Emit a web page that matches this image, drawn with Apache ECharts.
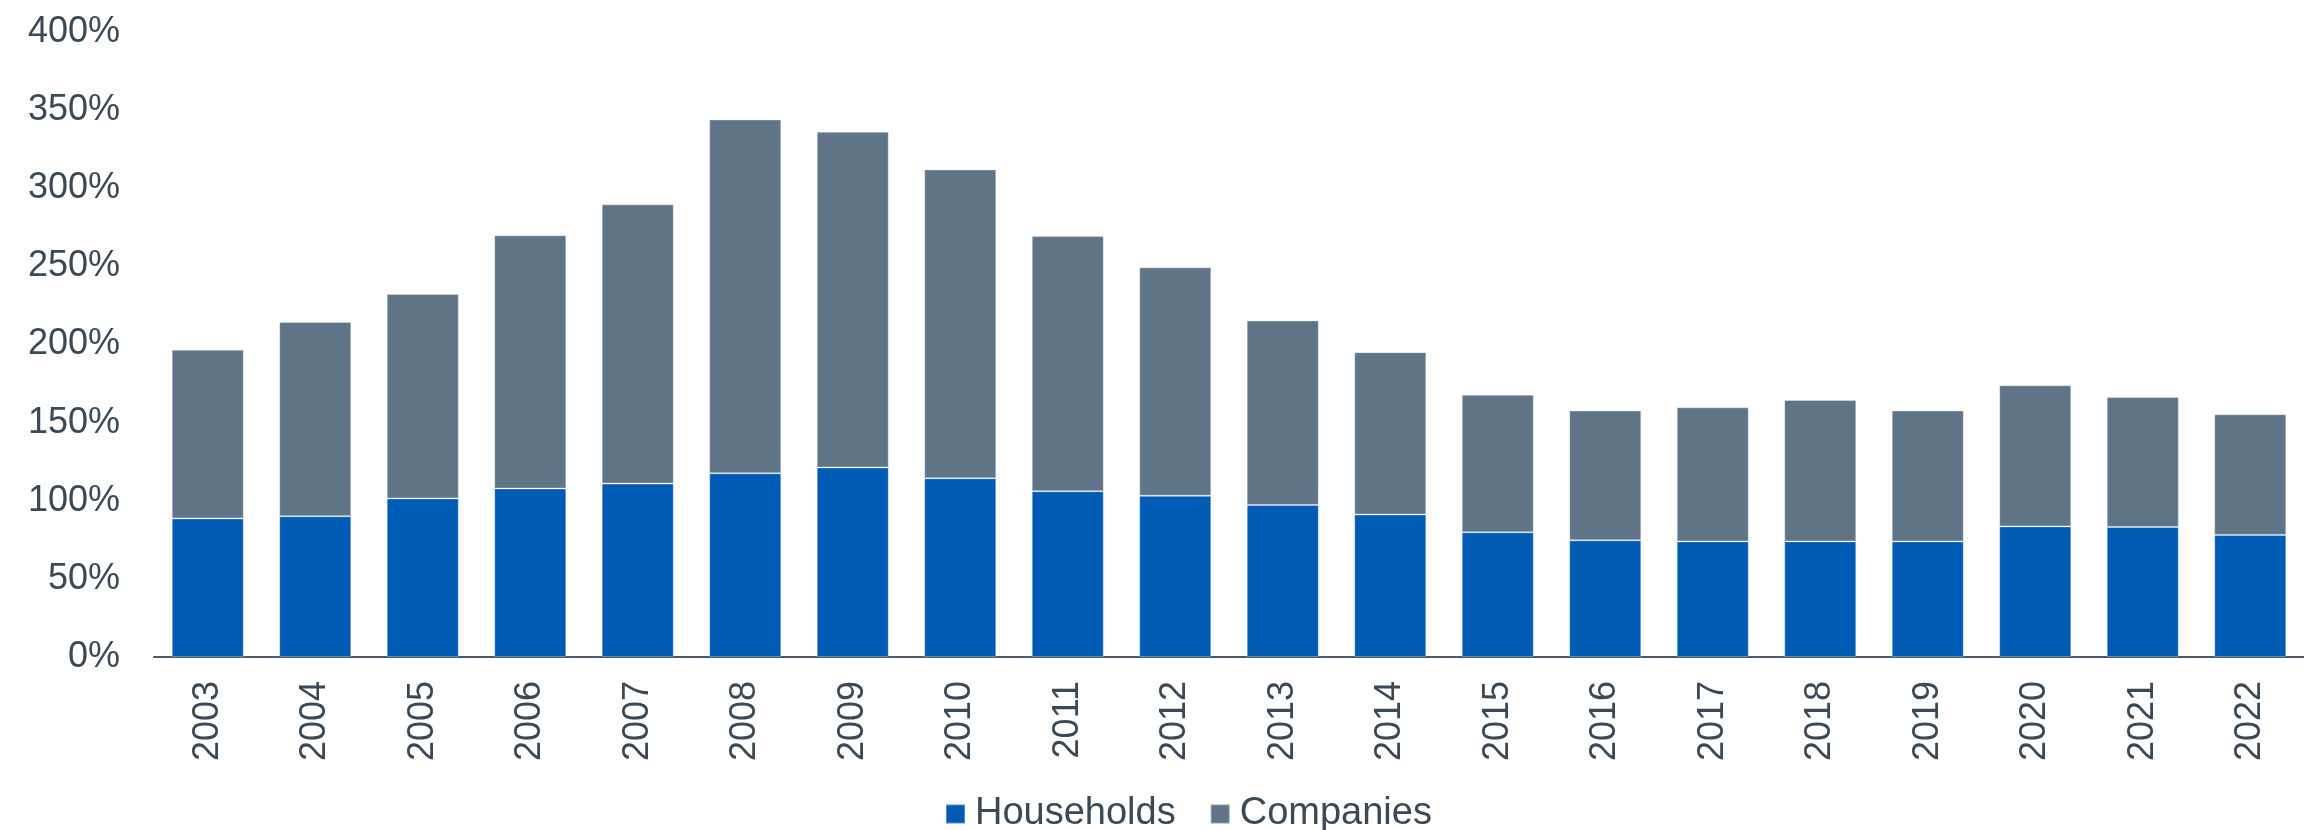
<!DOCTYPE html>
<html>
<head>
<meta charset="utf-8">
<script src="https://cdn.jsdelivr.net/npm/echarts@6/dist/echarts.min.js"></script>
<style>
  html, body { margin: 0; padding: 0; background: #fff; }
  #chart { width: 2304px; height: 830px; }
</style>
</head>
<body>
<div id="chart"></div>
<script>
// years on the x axis
const years = ['2003', '2004', '2005', '2006', '2007', '2008', '2009', '2010', '2011', '2012',
    '2013', '2014', '2015', '2016', '2017', '2018', '2019', '2020', '2021', '2022']
// households share (%)
const households = [88.7, 90.1, 101.5, 107.8, 111, 117.6, 121.3, 114.4, 106.1, 103.2,
    97.3, 91.2, 79.8, 74.7, 74, 74, 74, 83.6, 83.2, 78.1]
// companies share (%), stacked on top
const companies = [107.9, 124.3, 130.9, 162.1, 178.7, 226.4, 214.9, 197.6, 163.3, 146.2,
    118.1, 103.9, 88, 83, 85.8, 90.5, 83.7, 90.3, 83.2, 77.2]

const chart = echarts.init(document.getElementById('chart'))

const textColor = '#3b4856'

chart.setOption({
    animation: false,
    textStyle: { fontFamily: 'Liberation Sans, Arial, sans-serif' },
    grid: { left: 154, right: 0, top: 32, bottom: 173 },
    legend: {
        left: 940,
        top: 790,
        icon: 'rect',
        itemWidth: 19,
        itemHeight: 19,
        itemGap: 34,
        textStyle: {
            fontSize: 38,
            color: textColor,
            padding: [0, 0, 0, 5]
        },
        data: ['Households', 'Companies']
    },
    xAxis: {
        type: 'category',
        data: years,
        axisLine: { lineStyle: { color: '#4d5965', width: 2 } },
        axisTick: { show: false },
        axisLabel: {
            rotate: 90,
            margin: 24,
            fontSize: 36,
            color: textColor,
            interval: 0
        }
    },
    yAxis: {
        type: 'value',
        min: 0,
        max: 400,
        interval: 50,
        splitLine: { show: false },
        axisLine: { show: false },
        axisTick: { show: false },
        axisLabel: {
            margin: 34,
            fontSize: 36,
            color: textColor,
            formatter: '{value}%'
        }
    },
    series: [
        {
            name: 'Households',
            type: 'bar',
            stack: 'total',
            barWidth: '67%',
            itemStyle: { color: '#005bb5', borderColor: 'rgba(255,255,255,0.3)', borderWidth: 1 },
            data: households
        },
        {
            name: 'Companies',
            type: 'bar',
            stack: 'total',
            barWidth: '67%',
            itemStyle: { color: '#5f7587', borderColor: 'rgba(255,255,255,0.3)', borderWidth: 1 },
            data: companies
        }
    ]
})
</script>
</body>
</html>
